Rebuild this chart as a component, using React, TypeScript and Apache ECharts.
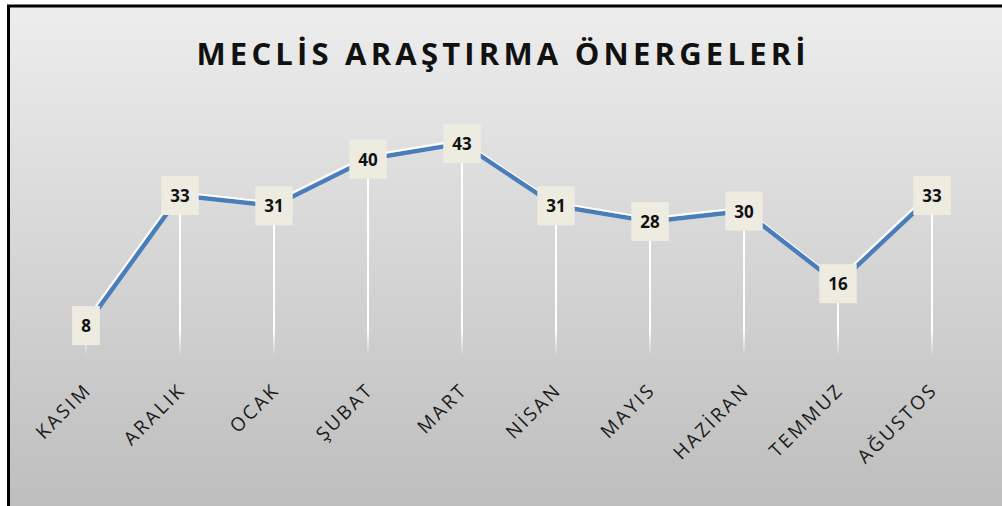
import React, { useEffect, useRef } from "react";
import * as echarts from "echarts";

const titleText = "MECLİS ARAŞTIRMA ÖNERGELERİ";
const months = ["KASIM", "ARALIK", "OCAK", "ŞUBAT", "MART", "NİSAN", "MAYIS", "HAZİRAN", "TEMMUZ", "AĞUSTOS"];
const values = [8, 33, 31, 40, 43, 31, 28, 30, 16, 33];

export default function App() {
  const ref = useRef<HTMLDivElement>(null);
  useEffect(() => {
    document.body.style.margin = "0";
    const chart = echarts.init(ref.current!, null, { renderer: "svg" });
    chart.setOption({
      animation: false,
      backgroundColor: "#ffffff",
      graphic: [
        {
          type: "rect",
          z: -10,
          silent: true,
          shape: { x: 8.5, y: 6, width: 1002, height: 510 },
          style: {
            fill: new echarts.graphic.LinearGradient(0, 0, 0, 1, [
              { offset: 0, color: "#ededed" },
              { offset: 1, color: "#bdbdbd" },
            ]),
            stroke: "#000",
            lineWidth: 3,
          },
        },
      ],
      title: {
        text: titleText,
        left: "center",
        top: 32,
        textStyle: { fontFamily: "Open Sans", fontWeight: "bold", fontSize: 31, color: "#111" },
      },
      grid: { left: 39, top: 107, width: 940, height: 260, containLabel: false },
      xAxis: {
        type: "category",
        data: months,
        boundaryGap: true,
        axisLine: { show: false },
        axisTick: { show: false },
        axisLabel: {
          rotate: 45,
          margin: 21,
          interval: 0,
          fontFamily: "Open Sans",
          fontSize: 19,
          color: "#1a1a1a",
        },
      },
      yAxis: { type: "value", min: 0, max: 50, show: false, splitLine: { show: false } },
      series: [
        {
          type: "bar",
          data: values,
          barWidth: 2,
          z: 1,
          silent: true,
          itemStyle: {
            color: new echarts.graphic.LinearGradient(
              0, 330, 0, 356,
              [
                { offset: 0, color: "rgba(255,255,255,1)" },
                { offset: 1, color: "rgba(255,255,255,0)" },
              ],
              true
            ),
          },
        },
        {
          type: "line",
          data: values,
          z: 3,
          symbol: "circle",
          symbolSize: 1,
          itemStyle: { color: "rgba(0,0,0,0)" },
          lineStyle: {
            color: "#4a7ebb",
            width: 4.5,
            shadowColor: "#ffffff",
            shadowBlur: 0,
            shadowOffsetY: -2,
            shadowOffsetX: -1,
          },
          label: {
            show: true,
            position: "inside",
            fontFamily: "Open Sans",
            fontWeight: "bold",
            fontSize: 17,
            color: "#111",
            backgroundColor: "#eeece1",
            padding: [10, 9],
            lineHeight: 19,
          },
        },
      ],
    });
    const svg = ref.current!.querySelector("svg");
    if (svg) {
      svg.querySelectorAll("text").forEach((t) => {
        const txt = t.textContent || "";
        if (txt === titleText) {
          (t as SVGTextElement).style.letterSpacing = "4.2px";
          const x = parseFloat(t.getAttribute("x") || "0");
          t.setAttribute("x", String(x + 2.1));
        } else if (months.indexOf(txt) >= 0) {
          (t as SVGTextElement).style.letterSpacing = "2.6px";
          const x = parseFloat(t.getAttribute("x") || "0");
          t.setAttribute("x", String(x + 2.6));
        }
      });
    }
    return () => chart.dispose();
  }, []);
  return <div ref={ref} style={{ position: "absolute", left: 0, top: 0, width: 1002, height: 506 }} />;
}
